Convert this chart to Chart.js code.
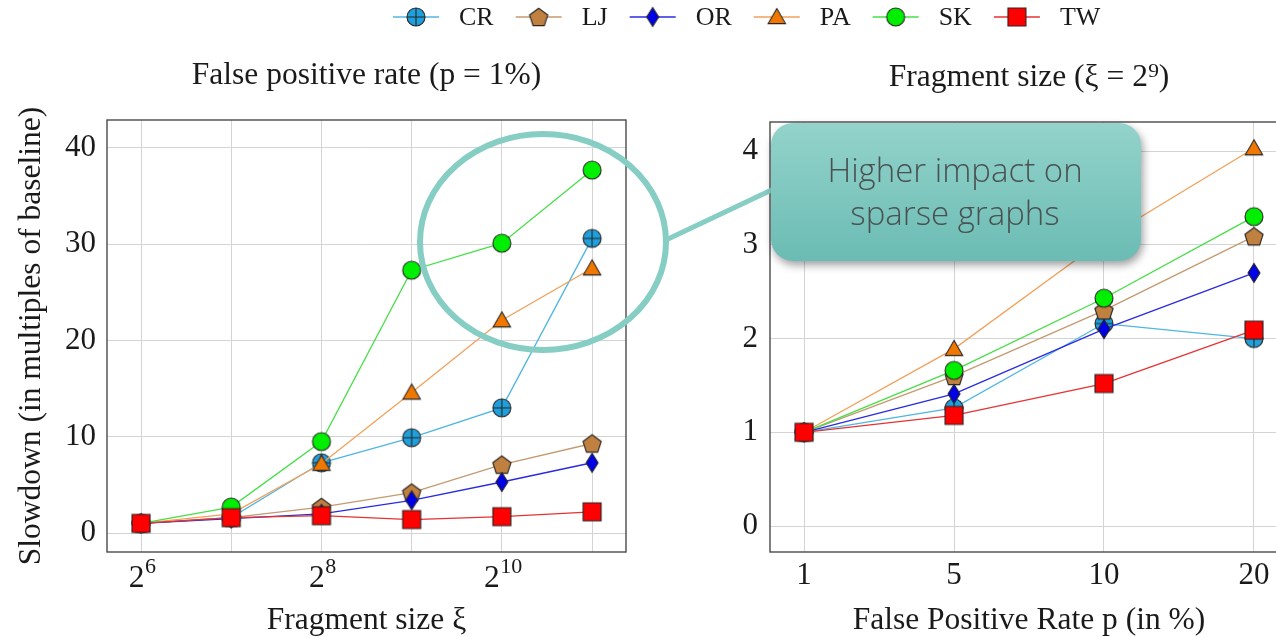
<!DOCTYPE html>
<html>
<head>
<meta charset="utf-8">
<script src="https://cdn.jsdelivr.net/npm/chart.js@4.4.1/dist/chart.umd.min.js"></script>
<style>
  html, body { margin: 0; padding: 0; background: #fff; overflow: hidden; width: 1276px; height: 637px; }
  canvas { position: absolute; left: 0; top: 0; }
</style>
</head>
<body>
<canvas id="fragChart" width="1276" height="637"></canvas>
<canvas id="fpChart" width="1310" height="637"></canvas>
<script>
// ---- data ----
const seriesNames = ['CR', 'LJ', 'OR', 'PA', 'SK', 'TW'];

// Left panel: slowdown vs. fragment size 2^k at p = 1%
const fragExponents = [6, 7, 8, 9, 10, 11];
const fragTickBase = '2';
const fragTickExps = ['6', '', '8', '', '10', ''];   // labelled ticks: 2^6, 2^8, 2^10
const fragCR = [1.0, 1.6, 7.3, 9.9, 13.0, 30.6];
const fragLJ = [1.0, 1.6, 2.7, 4.2, 7.1, 9.3];
const fragOR = [1.0, 1.5, 2.0, 3.4, 5.3, 7.3];
const fragPA = [1.0, 2.0, 7.2, 14.6, 22.1, 27.5];
const fragSK = [1.0, 2.7, 9.5, 27.3, 30.1, 37.7];
const fragTW = [1.0, 1.6, 1.8, 1.4, 1.7, 2.2];
const fragYTicks = [0, 10, 20, 30, 40];

// Right panel: slowdown vs. false positive rate at fragment size 2^9
const fpRates = ['1', '5', '10', '20'];
const fpCR = [1.0, 1.26, 2.16, 2.00];
const fpLJ = [1.0, 1.60, 2.30, 3.09];
const fpOR = [1.0, 1.41, 2.10, 2.70];
const fpPA = [1.0, 1.89, 3.06, 4.03];
const fpSK = [1.0, 1.66, 2.43, 3.30];
const fpTW = [1.0, 1.18, 1.52, 2.09];
const fpYTicks = [0, 1, 2, 3, 4];

// ---- styles ----
const lineColors = ['#4fb6e2', '#c49a70', '#2a2ae0', '#f2a05a', '#46df46', '#e63232'];
const fillColors = ['#1f9fdc', '#c08040', '#0000e6', '#f07800', '#00ee00', '#ff0000'];
const shapes = ['circleplus', 'pentagon', 'diamond', 'triangle', 'circle', 'square'];

const SERIF = '"Liberation Serif", "Times New Roman", serif';
Chart.defaults.font.family = SERIF;
Chart.defaults.color = '#1a1a1a';

function makeMarker(shape, fill) {
  const c = document.createElement('canvas');
  c.width = 26; c.height = 26;
  const g = c.getContext('2d');
  g.translate(13, 13);
  g.fillStyle = fill;
  g.strokeStyle = '#262626';
  g.lineWidth = 1.1;
  g.beginPath();
  if (shape === 'circle' || shape === 'circleplus') {
    g.arc(0, 0, 9, 0, Math.PI * 2);
  } else if (shape === 'square') {
    g.rect(-9, -9, 18, 18);
  } else if (shape === 'triangle') {
    g.moveTo(0, -8.5); g.lineTo(8.7, 6.6); g.lineTo(-8.7, 6.6); g.closePath();
  } else if (shape === 'diamond') {
    g.moveTo(0, -9.5); g.lineTo(6, 0); g.lineTo(0, 9.5); g.lineTo(-6, 0); g.closePath();
  } else if (shape === 'pentagon') {
    for (let i = 0; i < 5; i++) {
      const a = -Math.PI / 2 + i * 2 * Math.PI / 5;
      const px = 9.6 * Math.cos(a), py = 9.6 * Math.sin(a) + 0.9;
      if (i === 0) g.moveTo(px, py); else g.lineTo(px, py);
    }
    g.closePath();
  }
  g.fill();
  g.stroke();
  if (shape === 'circleplus') {
    g.beginPath();
    g.moveTo(-9, 0); g.lineTo(9, 0);
    g.moveTo(0, -9); g.lineTo(0, 9);
    g.stroke();
  }
  return c;
}
const markers = shapes.map((s, i) => makeMarker(s, fillColors[i]));

function buildDatasets(xs, seriesValues) {
  return seriesNames.map((name, i) => ({
    label: name,
    data: xs.map((x, j) => ({ x: x, y: seriesValues[i][j] })),
    borderColor: lineColors[i],
    backgroundColor: fillColors[i],
    borderWidth: 1.3,
    pointStyle: markers[i],
    pointRadius: 9,
    tension: 0,
    order: -i,
    clip: false
  }));
}

// Plot frame drawn around the full chart area
const framePlugin = {
  id: 'frame',
  beforeDatasetsDraw(chart) {
    const { ctx, chartArea: a } = chart;
    ctx.save();
    ctx.strokeStyle = '#4a4a4a';
    ctx.lineWidth = 1.4;
    ctx.strokeRect(a.left, a.top, a.right - a.left, a.bottom - a.top);
    ctx.restore();
  }
};

// Power-of-two tick labels (base with raised exponent) for the fragment-size axis
const powerTicksPlugin = {
  id: 'powerTicks',
  afterDraw(chart) {
    const ctx = chart.ctx;
    const xs = chart.scales.x;
    ctx.save();
    ctx.fillStyle = '#1a1a1a';
    ctx.textBaseline = 'alphabetic';
    ctx.textAlign = 'left';
    fragExponents.forEach((v, i) => {
      const exp = fragTickExps[i];
      if (!exp) return;
      const px = xs.getPixelForValue(v);
      ctx.font = '31.5px ' + SERIF;
      const wb = ctx.measureText(fragTickBase).width;
      ctx.font = '22px ' + SERIF;
      const we = ctx.measureText(exp).width;
      const x0 = px - (wb + we) / 2 + 1;
      ctx.font = '31.5px ' + SERIF;
      ctx.fillText(fragTickBase, x0, 587);
      ctx.font = '22px ' + SERIF;
      ctx.fillText(exp, x0 + wb + 0.5, 573);
    });
    ctx.restore();
  }
};

// Shared legend across the top of the figure
const topLegendPlugin = {
  id: 'topLegend',
  afterDraw(chart) {
    const ctx = chart.ctx;
    ctx.save();
    ctx.font = '26px ' + SERIF;
    ctx.textBaseline = 'middle';
    ctx.fillStyle = '#1a1a1a';
    let x = 393;
    const y = 17;
    chart.data.datasets.forEach(ds => {
      ctx.strokeStyle = ds.borderColor;
      ctx.lineWidth = 1.4;
      ctx.beginPath();
      ctx.moveTo(x, y); ctx.lineTo(x + 46, y);
      ctx.stroke();
      ctx.drawImage(ds.pointStyle, x + 23 - 13, y - 13);
      ctx.fillText(ds.label, x + 66, y + 1);
      x += 66 + ctx.measureText(ds.label).width + 22;
    });
    ctx.restore();
  }
};

// Highlight ring and callout box
const calloutPlugin = {
  id: 'callout',
  afterDraw(chart) {
    const ctx = chart.ctx;
    const teal = '#86cdc4';
    ctx.save();
    ctx.strokeStyle = teal;
    ctx.lineWidth = 6;
    ctx.beginPath();
    ctx.ellipse(543, 242, 123, 108, 0, 0, Math.PI * 2);
    ctx.stroke();
    ctx.lineWidth = 5;
    ctx.beginPath();
    ctx.moveTo(668, 239);
    ctx.lineTo(780, 186);
    ctx.stroke();

    const bx = 771, by = 123, bw = 370, bh = 138;
    ctx.save();
    ctx.shadowColor = 'rgba(0,0,0,0.38)';
    ctx.shadowBlur = 9;
    ctx.shadowOffsetX = 2;
    ctx.shadowOffsetY = 4;
    const grad = ctx.createLinearGradient(0, by, 0, by + bh);
    grad.addColorStop(0, '#93d3cb');
    grad.addColorStop(1, '#6bbcb4');
    ctx.fillStyle = grad;
    ctx.beginPath();
    ctx.roundRect(bx, by, bw, bh, 22);
    ctx.fill();
    ctx.restore();

    ctx.fillStyle = '#4a5251';
    ctx.font = '300 33px "Open Sans", "Noto Sans", sans-serif';
    ctx.textAlign = 'center';
    ctx.textBaseline = 'middle';
    ctx.fillText('Higher impact on', bx + bw / 2 - 1, 173);
    ctx.fillText('sparse graphs', bx + bw / 2 - 1, 216);
    ctx.restore();
  }
};

const gridColor = '#d4d4d4';
const tickFont = { size: 31 };
const titleFont = { size: 31.5, lineHeight: 1.0 };

// ---- left chart: fragment size ----
new Chart(document.getElementById('fragChart'), {
  type: 'line',
  data: { datasets: buildDatasets(fragExponents, [fragCR, fragLJ, fragOR, fragPA, fragSK, fragTW]) },
  options: {
    responsive: false,
    animation: false,
    devicePixelRatio: 1,
    layout: { padding: { left: 0, right: 650, top: 0, bottom: 0 } },
    plugins: { legend: { display: false }, tooltip: { enabled: false } },
    scales: {
      x: {
        type: 'linear', position: 'bottom', min: 5.623, max: 11.376,
        afterFit: s => { s.height = 85; },
        afterBuildTicks: s => { s.ticks = fragExponents.map(v => ({ value: v })); },
        ticks: { display: false },
        grid: { color: gridColor, drawTicks: false },
        border: { display: false },
        title: { display: true, text: 'Fragment size \u03be', font: titleFont, padding: { top: 0, bottom: 1 } }
      },
      xTop: {
        type: 'linear', position: 'top', min: 0, max: 1,
        afterFit: s => { s.height = 120; },
        ticks: { display: false },
        grid: { display: false, drawTicks: false },
        border: { display: false },
        title: { display: true, text: 'False positive rate (p = 1%)', font: titleFont, padding: { top: 60, bottom: 0 } }
      },
      y: {
        type: 'linear', position: 'left', min: -1.97, max: 42.9,
        afterFit: s => { s.width = 107; },
        afterBuildTicks: s => { s.ticks = fragYTicks.map(v => ({ value: v })); },
        ticks: { font: tickFont, padding: 11 },
        grid: { color: gridColor, drawTicks: false },
        border: { display: false },
        title: { display: true, text: 'Slowdown (in multiples of baseline)', font: titleFont, padding: { top: 16, bottom: 0 } }
      }
    }
  },
  plugins: [framePlugin, powerTicksPlugin, topLegendPlugin]
});

// ---- right chart: false positive rate ----
new Chart(document.getElementById('fpChart'), {
  type: 'line',
  data: { datasets: buildDatasets(fpRates.map((_, i) => i), [fpCR, fpLJ, fpOR, fpPA, fpSK, fpTW]) },
  options: {
    responsive: false,
    animation: false,
    devicePixelRatio: 1,
    layout: { padding: { left: 700, right: 22, top: 0, bottom: 0 } },
    plugins: { legend: { display: false }, tooltip: { enabled: false } },
    scales: {
      x: {
        type: 'linear', position: 'bottom', min: -0.227, max: 3.227,
        afterFit: s => { s.height = 85; },
        afterBuildTicks: s => { s.ticks = fpRates.map((_, i) => ({ value: i })); },
        ticks: {
          callback: v => fpRates[v],
          font: tickFont, padding: 5, maxRotation: 0, autoSkip: false
        },
        grid: { color: gridColor, drawTicks: false },
        border: { display: false },
        title: { display: true, text: 'False Positive Rate p (in %)', font: titleFont, padding: { top: 0, bottom: 1 } }
      },
      xTop: {
        type: 'linear', position: 'top', min: 0, max: 1,
        afterFit: s => { s.height = 122; },
        ticks: { display: false },
        grid: { display: false, drawTicks: false },
        border: { display: false },
        title: { display: true, text: 'Fragment size (\u03be = 2\u2079)', font: titleFont, padding: { top: 62, bottom: 0 } }
      },
      y: {
        type: 'linear', position: 'left', min: -0.277, max: 4.31,
        afterFit: s => { s.width = 70; },
        afterBuildTicks: s => { s.ticks = fpYTicks.map(v => ({ value: v })); },
        ticks: { font: tickFont, padding: 12 },
        grid: { color: gridColor, drawTicks: false },
        border: { display: false }
      }
    }
  },
  plugins: [framePlugin, calloutPlugin]
});
</script>
</body>
</html>
